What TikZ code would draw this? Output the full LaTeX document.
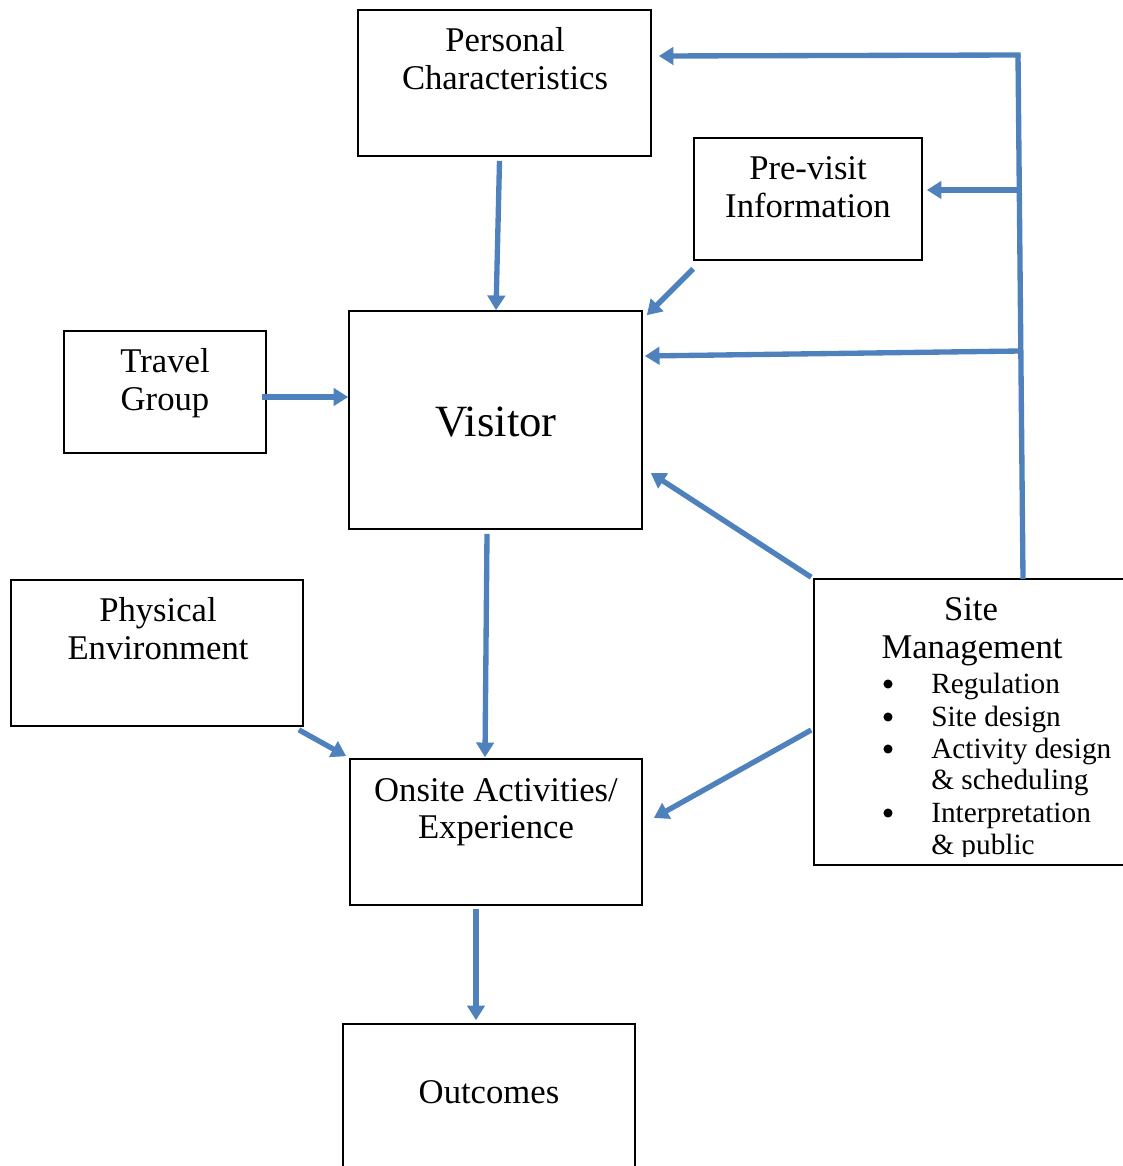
\documentclass[tikz,border=0pt]{standalone}
\usepackage{fontspec}
\setmainfont{Liberation Serif}
\usetikzlibrary{arrows.meta,fit,calc}
\definecolor{arrowblue}{HTML}{4F81BD}
\begin{document}
\begin{tikzpicture}[x=0.75pt,y=-0.75pt,
  box/.style={draw=black, line width=1.2pt, inner sep=0pt},
  txt/.style={font=\fontsize{26}{28}\selectfont, inner sep=0pt, anchor=mid, yshift=-5.5pt},
  big/.style={font=\fontsize{33.5}{36}\selectfont, inner sep=0pt, anchor=mid, yshift=-8pt},
  small/.style={font=\fontsize{22}{24}\selectfont, inner sep=0pt, anchor=mid west, yshift=-4.5pt},
  bul/.style={circle, fill=black, inner sep=0pt, minimum size=6.8pt},
  arr/.style={draw=arrowblue, line width=4pt, -{Triangle[width=13pt,length=11pt]}},
  fbline/.style={draw=arrowblue, line width=4pt}]
\useasboundingbox (0,0) rectangle (1122,1166);
% boxes
\node[box, fit={(358,10) (651,156)}] (pc) {};
\node[box, fit={(694,138) (922,260)}] (pv) {};
\node[box, fit={(64,331) (266,453)}] (tg) {};
\node[box, fit={(349,311) (642,529)}] (vis) {};
\node[box, fit={(11,580) (303,726)}] (pe) {};
\node[box, fit={(814,579) (1140,865)}] (sm) {};
\node[box, fit={(350,759) (642,905)}] (on) {};
\node[box, fit={(343,1024) (635,1190)}] (out) {};
% texts
\node[txt] (pct1) at (505,41) {Personal};
\node[txt] (pct2) at (505,79) {Characteristics};
\node[txt] (pvt1) at (808,169) {Pre-visit};
\node[txt] (pvt2) at (808,207) {Information};
\node[txt] (tgt1) at (165,362) {Travel};
\node[txt] (tgt2) at (165,400) {Group};
\node[big] (vist) at (496,423) {Visitor};
\node[txt] (pet1) at (158,611) {Physical};
\node[txt] (pet2) at (158,649) {Environment};
\node[txt] (ont1) at (496,791) {Onsite Activities/};
\node[txt] (ont2) at (496,828) {Experience};
\node[txt] (outt) at (489,1093) {Outcomes};
\node[txt] (smt1) at (971,610) {Site};
\node[txt] (smt2) at (972,648) {Management};
\begin{scope}
\clip (814,579) rectangle (1122,856);
\node[bul] (b1) at (888,684) {};
\node[small] (s1) at (931,684) {Regulation};
\node[bul] (b2) at (888,717) {};
\node[small] (s2) at (931,717) {Site design};
\node[bul] (b3) at (888,749) {};
\node[small] (s3) at (931,749) {Activity design};
\node[small] (s4) at (931,780) {\& scheduling};
\node[bul] (b4) at (888,813) {};
\node[small] (s5) at (931,813) {Interpretation};
\node[small] (s6) at (931,845) {\& public};
\end{scope}
% feedback line
\coordinate (fb0) at (1023,579);
\coordinate (fb1) at (1018,55);
\coordinate (fb2) at (1018.6,190);
\coordinate (fb3) at (1020.4,351);
\draw[fbline] (fb0) -- (fb1);
\draw[arr] ($(fb1)+(2.5,0)$) -- ($(fb1 -| pc.east)+(7,1)$);
\draw[arr] (fb2) -- ($(fb2 -| pv.east)+(4,0)$);
\draw[arr] (fb3) -- ($(vis.east)+(2,-64)$);
% arrows
\draw[arr] ($(pc.south)+(-5,4)$) -- ($(vis.north)+(0.5,0)$);
\draw[arr] ($(pv.south west)+(0,8)$) -- ($(vis.north east)+(4,5)$);
\draw[arr] ($(tg.east)+(-5,5)$) -- ($(vis.west)+(0,-23)$);
\draw[arr] ($(sm.north west)+(-2,-1)$) -- ($(vis.east)+(8,53)$);
\draw[arr] ($(vis.south)+(-8.5,4)$) -- ($(on.north)+(-11,-1)$);
\draw[arr] ($(pe.south east)+(-5,3)$) -- ($(on.north west)+(-3,-2)$);
\draw[arr] ($(sm.west)+(-2,8)$) -- ($(on.east)+(11,-14)$);
\draw[arr] ($(on.south)+(-20,3)$) -- ($(out.north)+(-13,-3)$);
\end{tikzpicture}
\end{document}
